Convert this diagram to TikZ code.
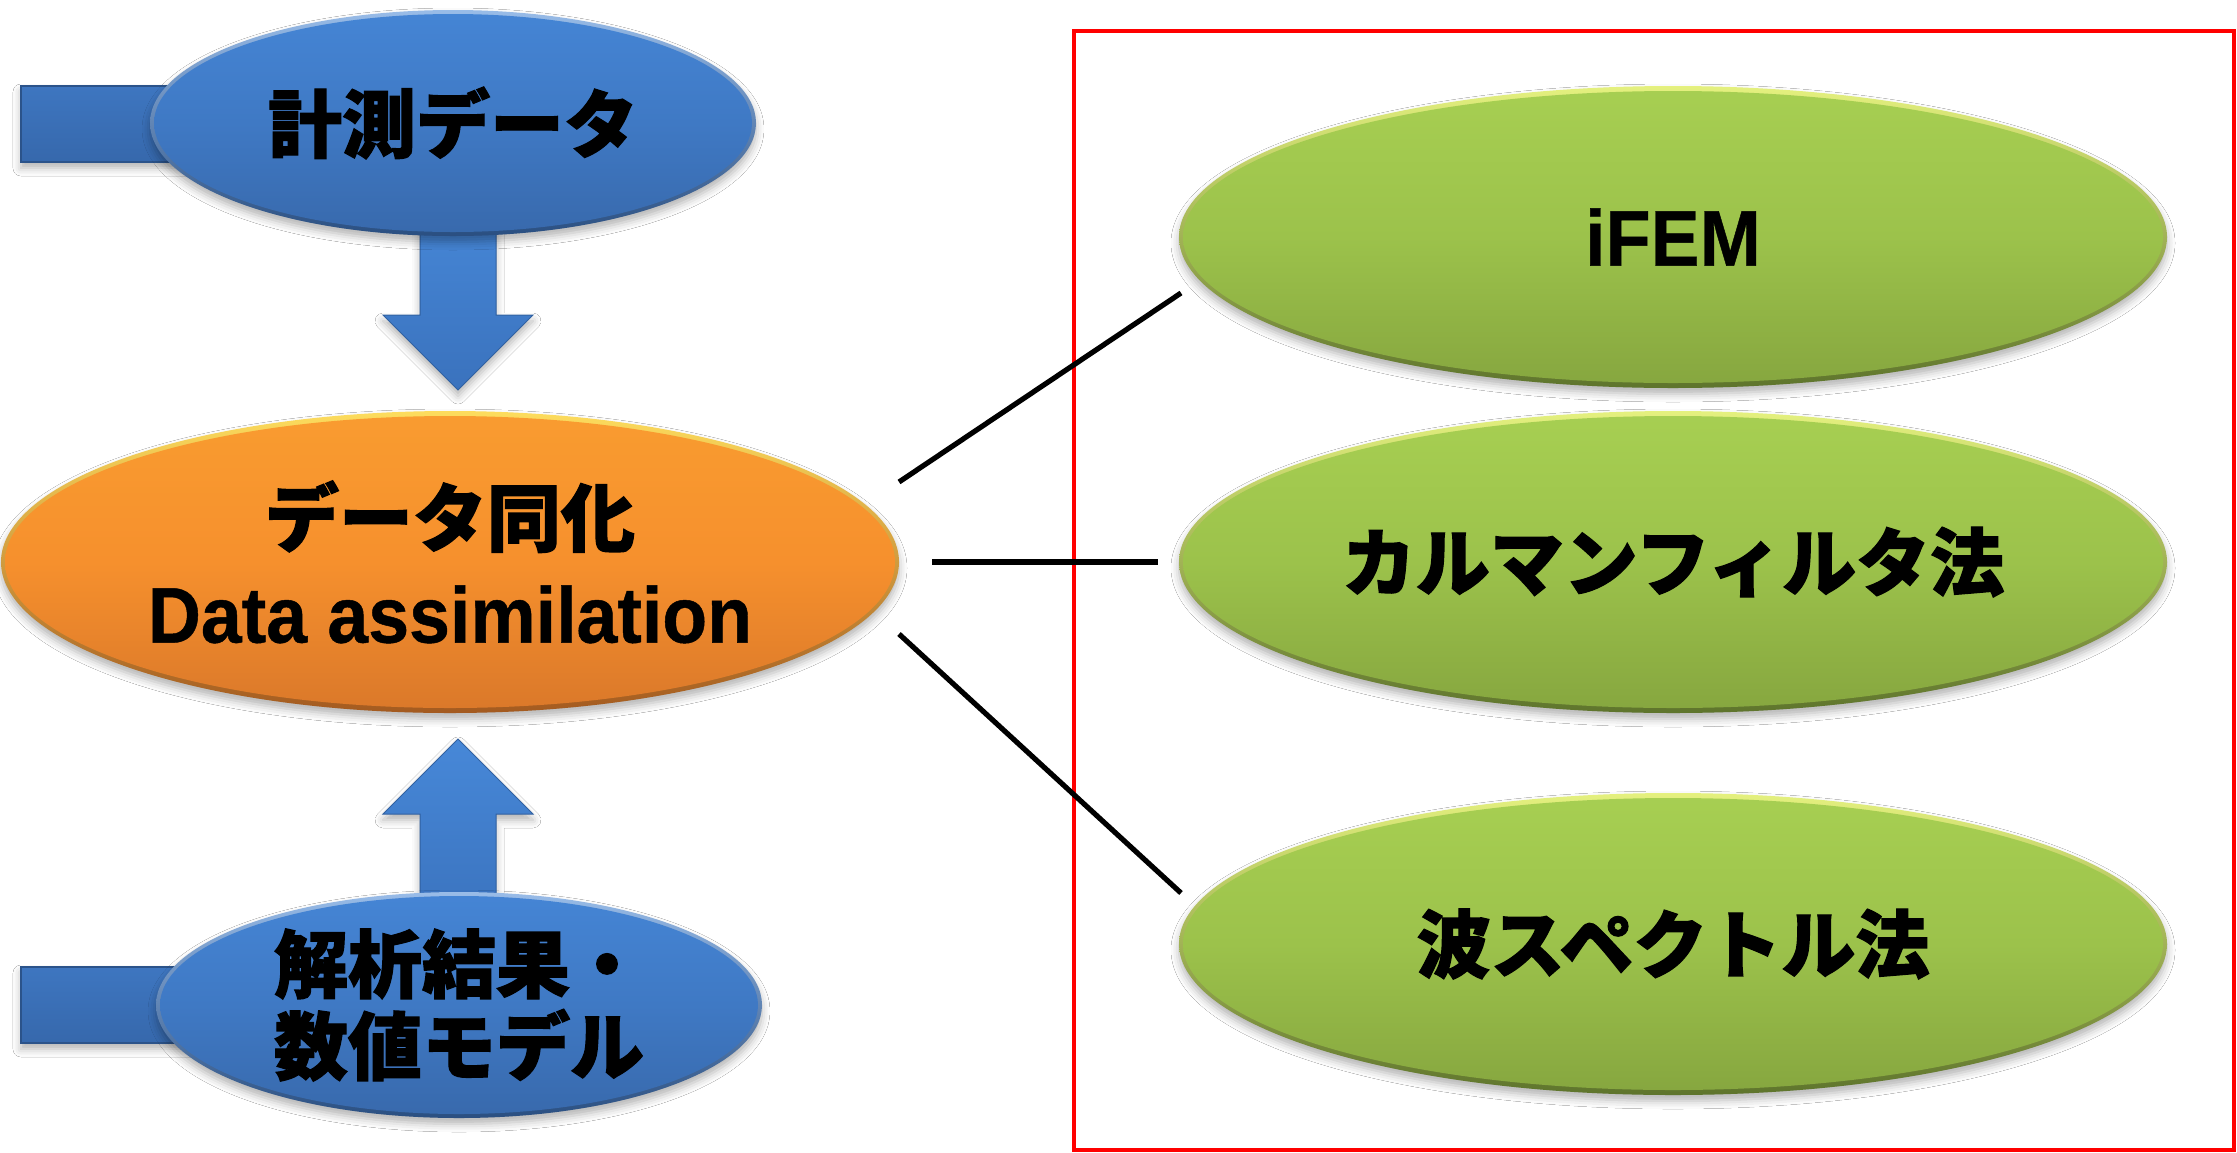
\documentclass[tikz,border=0pt]{standalone}
\usepackage{fontspec}
\setmainfont{Liberation Sans}[BoldFeatures={FakeBold=0.6}]
\newfontfamily\jp{Noto Sans CJK JP}[BoldFeatures={FakeBold=1.6}]
\usetikzlibrary{shapes.geometric,calc,shadows.blur}
\definecolor{bluetop}{HTML}{4585D5}
\definecolor{bluemid}{HTML}{3F79C4}
\definecolor{bluebot}{HTML}{3869AC}
\definecolor{orangetop}{HTML}{F99C30}
\definecolor{orangemid}{HTML}{F6902D}
\definecolor{orangebot}{HTML}{DA782A}
\definecolor{greentop}{HTML}{A7CF52}
\definecolor{greenmid}{HTML}{9CC24B}
\definecolor{greenbot}{HTML}{86A63F}
\definecolor{bartop}{HTML}{3E76C0}
\definecolor{barbot}{HTML}{3668AC}
\definecolor{arrtop}{HTML}{4788D8}
\definecolor{arrbot}{HTML}{3A72BD}
\definecolor{boxred}{HTML}{FF0000}
\tikzset{
  shadowed/.style={blur shadow={shadow xshift=0pt,shadow yshift=-3pt,shadow blur radius=4pt,shadow opacity=30}},
  ell/.style={ellipse, inner sep=0pt, align=center, shadowed,
    font=\bfseries\fontsize{37}{48.5}\selectfont},
  blueell/.style={ell, top color=bluetop!55!white, bottom color=bluebot!75!black,
    minimum width=303pt, minimum height=113pt,
    path picture={\path[top color=bluetop, bottom color=bluebot, middle color=bluemid]
      (path picture bounding box.center) ellipse [x radius=149.5pt, y radius=54.5pt];}},
  orangeell/.style={ell, top color=orangetop!50!yellow!70!white, bottom color=orangebot!75!black,
    minimum width=449pt, minimum height=151pt,
    path picture={\path[top color=orangetop, bottom color=orangebot, middle color=orangemid]
      (path picture bounding box.center) ellipse [x radius=222.5pt, y radius=73pt];}},
  greenell/.style={ell, top color=greentop!50!yellow!60!white, bottom color=greenbot!70!black,
    minimum width=494pt, minimum height=151pt,
    path picture={\path[top color=greentop, bottom color=greenbot, middle color=greenmid]
      (path picture bounding box.center) ellipse [x radius=245pt, y radius=73pt];}},
  barshape/.style={top color=bartop, bottom color=barbot, draw=barbot!80!black, line width=0.6pt, shadowed},
  arrshape/.style={top color=arrtop, bottom color=arrbot, draw=arrbot!85!black, line width=0.5pt, shadowed},
  link/.style={draw=black, line width=2.6pt},
  redbox/.style={draw=boxred, line width=2pt}
}
\begin{document}
\begin{tikzpicture}[x=0.5pt,y=-0.5pt]
\useasboundingbox (0,0) rectangle (2237,1152);
\fill[white] (0,0) rectangle (2237,1152);

% red frame
\draw[redbox] (1074,31) rectangle (2234,1150);

% side bars
\path[barshape] (21,86) rectangle (300,162);
\path[barshape] (21,967) rectangle (300,1043);

% block arrows
\path[arrshape] (420,200) -- (496,200) -- (496,315) -- (533,315) -- (458,390) -- (383,315) -- (420,315) -- cycle;
\path[arrshape] (420,930) -- (496,930) -- (496,814) -- (533,814) -- (458,739) -- (383,814) -- (420,814) -- cycle;

% ellipses
\node[blueell] (meas) at (453,123) {\jp 計測データ};
\node[orangeell] (da) at (450,562) {{\jp データ同化}\\\scalebox{0.93}[1]{\fontsize{39.5}{48.5}\selectfont Data assimilation}};
\node[blueell, font=\bfseries\fontsize{37}{41}\selectfont] (ana) at (459,1005) {\jp 解析結果・\\\jp 数値モデル};
\node[greenell] (ifem) at (1673,237) {\scalebox{0.93}[1]{\fontsize{39.5}{48}\selectfont iFEM}};
\node[greenell] (kal) at (1673,562) {\jp カルマンフィルタ法};
\node[greenell] (wave) at (1673,944) {\jp 波スペクトル法};

% connectors
\coordinate (l1a) at ($(da.center)+(449,-80)$);
\coordinate (l1b) at ($(ifem.center)+(-492,56)$);
\coordinate (l2a) at ($(da.center)+(482,0)$);
\coordinate (l2b) at ($(kal.center)+(-515,0)$);
\coordinate (l3a) at ($(da.center)+(449,72)$);
\coordinate (l3b) at ($(wave.center)+(-492,-51)$);
\draw[link] (l1a) -- (l1b);
\draw[link] (l2a) -- (l2b);
\draw[link] (l3a) -- (l3b);
\end{tikzpicture}
\end{document}
